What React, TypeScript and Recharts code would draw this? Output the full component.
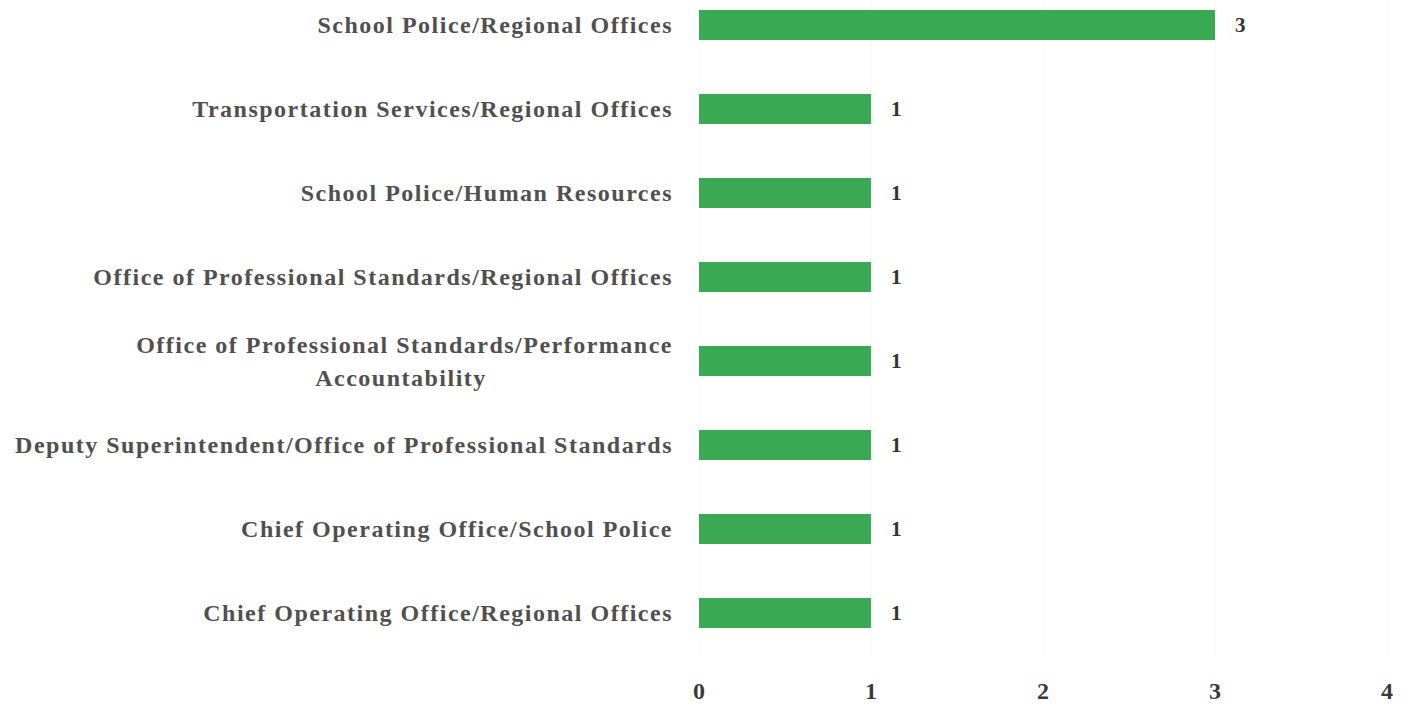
import { BarChart, Bar, XAxis, YAxis, CartesianGrid, LabelList } from "recharts";

const categories = [
  "School Police/Regional Offices",
  "Transportation Services/Regional Offices",
  "School Police/Human Resources",
  "Office of Professional Standards/Regional Offices",
  "Office of Professional Standards/Performance Accountability",
  "Deputy Superintendent/Office of Professional Standards",
  "Chief Operating Office/School Police",
  "Chief Operating Office/Regional Offices",
];
const counts = [3, 1, 1, 1, 1, 1, 1, 1];
const xTicks = [0, 1, 2, 3, 4];

const data = categories.map((name, i) => ({ name, count: counts[i] }));

const serif = "'Liberation Serif', 'Times New Roman', serif";
const labelSize = 24;
const lineGap = 33;
const maxChars = 55;

// greedy word wrap on character count
function wrap(label: string): string[] {
  const lines: string[] = [];
  let cur = "";
  for (const w of label.split(" ")) {
    const next = cur ? cur + " " + w : w;
    if (next.length > maxChars && cur) {
      lines.push(cur);
      cur = w;
    } else cur = next;
  }
  if (cur) lines.push(cur);
  return lines;
}

function CategoryTick(props: any) {
  const { x, y, payload } = props;
  const lines = wrap(String(payload.value));
  const first = y - ((lines.length - 1) * lineGap) / 2 + labelSize * 0.35;
  return (
    <text
      x={x - 18}
      y={first}
      textAnchor="end"
      fill="#505050"
      fontFamily={serif}
      fontWeight="bold"
      fontSize={labelSize}
      letterSpacing={1.5}
    >
      {lines.map((l, i) => (
        <tspan key={i} x={x - 18} dy={i === 0 ? 0 : lineGap} textAnchor={i === 0 ? "end" : "middle"} dx={i === 0 ? 0 : -272}>
          {l}
        </tspan>
      ))}
    </text>
  );
}

export default function App() {
  return (
    <div style={{ position: "absolute", left: 0, top: -17 }}>
      <BarChart
        width={1414}
        height={732}
        data={data}
        layout="vertical"
        margin={{ top: 0, right: 27, bottom: 0, left: 0 }}
        barSize={30}
        barCategoryGap={0}
      >
        <CartesianGrid horizontal={false} stroke="#f7f7f7" />
        <XAxis
          type="number"
          domain={[0, 4]}
          ticks={xTicks}
          axisLine={false}
          tickLine={false}
          tickSize={0}
          tickMargin={27}
          height={60}
          tick={{ fill: "#3a3a3a", fontFamily: serif, fontWeight: "bold", fontSize: 24 }}
        />
        <YAxis
          type="category"
          dataKey="name"
          width={699}
          axisLine={false}
          tickLine={false}
          interval={0}
          tick={<CategoryTick />}
        />
        <Bar dataKey="count" fill="#3ba853" isAnimationActive={false}>
          <LabelList
            dataKey="count"
            position="right"
            offset={20}
            fill="#333"
            fontFamily={serif}
            fontWeight="bold"
            fontSize={21}
          />
        </Bar>
      </BarChart>
    </div>
  );
}
